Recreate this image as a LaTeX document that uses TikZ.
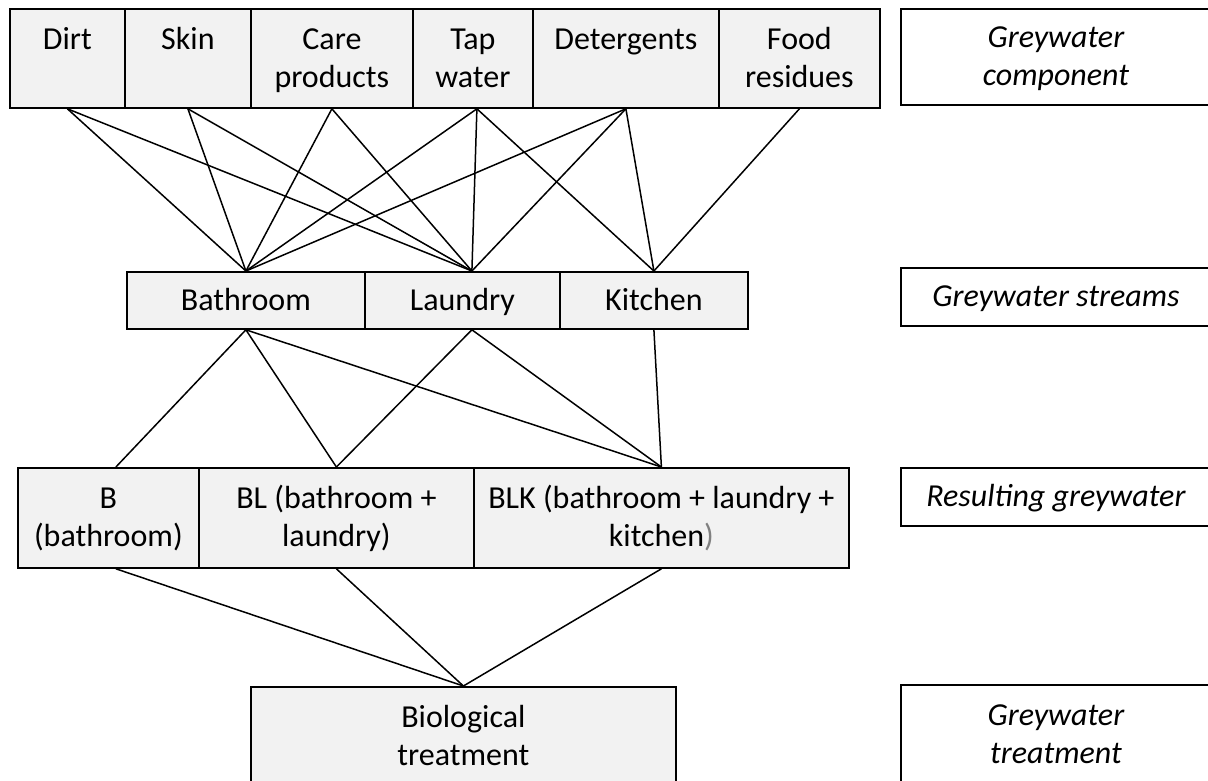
\documentclass[tikz,border=0pt]{standalone}
\usepackage{fontspec}
\setmainfont{Carlito}
\definecolor{cellfill}{HTML}{F2F2F2}
\definecolor{softgray}{HTML}{808080}
\newcommand\tl[1]{\begin{tabular}[t]{@{}c@{}}#1\end{tabular}}
\begin{document}
\begin{tikzpicture}[x=1pt,y=-1pt,
  box/.style={draw=black, line width=1.8pt, fill=cellfill, inner sep=0pt, anchor=north west,
    font=\fontsize{32}{38}\selectfont, text height=29pt, text depth=47pt},
  box1/.style={box, text depth=9pt},
  lbl/.style={box, fill=white, font=\fontsize{32}{38}\selectfont\itshape},
  lbl1/.style={lbl, text depth=9pt},
  link/.style={draw=black, line width=1.5pt}]
\useasboundingbox (0,0) rectangle (1208,780);
\clip (0,0) rectangle (1208,780);
% top row: components
\node[box, minimum width=115pt, minimum height=99pt] (dirt) at (9,8) {\tl{Dirt}};
\node[box, minimum width=126pt, minimum height=99pt] (skin) at (124,8) {\tl{Skin}};
\node[box, minimum width=162pt, minimum height=99pt] (care) at (250,8) {\tl{Care\\products}};
\node[box, minimum width=120pt, minimum height=99pt] (tap) at (412,8) {\tl{Tap\\water}};
\node[box, minimum width=186pt, minimum height=99pt] (det) at (532,8) {\tl{Detergents}};
\node[box, minimum width=161pt, minimum height=99pt] (food) at (718,8) {\tl{Food\\residues}};
% middle row: streams
\node[box1, minimum width=238pt, minimum height=57pt] (bath) at (126,271) {\tl{Bathroom}};
\node[box1, minimum width=195pt, minimum height=57pt] (lau) at (364,271) {\tl{Laundry}};
\node[box1, minimum width=188pt, minimum height=57pt] (kit) at (559,271) {\tl{Kitchen}};
% bottom row: resulting greywater
\node[box, minimum width=181pt, minimum height=100pt] (resB) at (17,467) {\tl{B\\(bathroom)}};
\node[box, minimum width=275pt, minimum height=100pt] (resBL) at (198,467) {\tl{BL (bathroom +\\laundry)}};
\node[box, minimum width=375pt, minimum height=100pt] (resBLK) at (473,467) {\tl{BLK (bathroom + laundry +\\kitchen\textcolor{softgray}{)}}};
% treatment
\node[box, minimum width=425pt, minimum height=99pt] (bio) at (250,686) {\tl{Biological\\treatment}};
% right-hand labels
\node[lbl, minimum width=310pt, minimum height=96pt] (Lcomp) at (900,8) {\tl{Greywater\\component}};
\node[lbl1, minimum width=310pt, minimum height=58pt] (Lstream) at (900,267) {\tl{Greywater streams}};
\node[lbl1, minimum width=310pt, minimum height=58pt] (Lres) at (900,467) {\tl{Resulting greywater}};
\node[lbl, minimum width=310pt, minimum height=99pt] (Ltreat) at (900,684) {\tl{Greywater\\treatment}};
% connectors: components -> streams
\draw[link] (dirt.south) -- ([xshift=9.5pt]lau.north);
\draw[link] (dirt.south) -- (bath.north);
\draw[link] (skin.south) -- (bath.north);
\draw[link] (skin.south) -- ([xshift=9.5pt]lau.north);
\draw[link] (care.south) -- (bath.north);
\draw[link] (care.south) -- ([xshift=9.5pt]lau.north);
\draw[link] ([xshift=4pt]tap.south) -- (bath.north);
\draw[link] ([xshift=4pt]tap.south) -- ([xshift=9.5pt]lau.north);
\draw[link] ([xshift=4pt]tap.south) -- (kit.north);
\draw[link] (det.south) -- (bath.north);
\draw[link] (det.south) -- ([xshift=9.5pt]lau.north);
\draw[link] (det.south) -- (kit.north);
\draw[link] (food.south) -- (kit.north);
% streams -> resulting greywater
\draw[link] (bath.south) -- ([xshift=7.5pt]resB.north);
\draw[link] (bath.south) -- (resBL.north);
\draw[link] (bath.south) -- (resBLK.north);
\draw[link] ([xshift=9.5pt]lau.south) -- (resBL.north);
\draw[link] ([xshift=9.5pt]lau.south) -- (resBLK.north);
\draw[link] (kit.south) -- (resBLK.north);
% resulting greywater -> treatment
\draw[link] ([xshift=7.5pt]resB.south) -- (bio.north);
\draw[link] (resBL.south) -- (bio.north);
\draw[link] (resBLK.south) -- (bio.north);
\end{tikzpicture}
\end{document}
